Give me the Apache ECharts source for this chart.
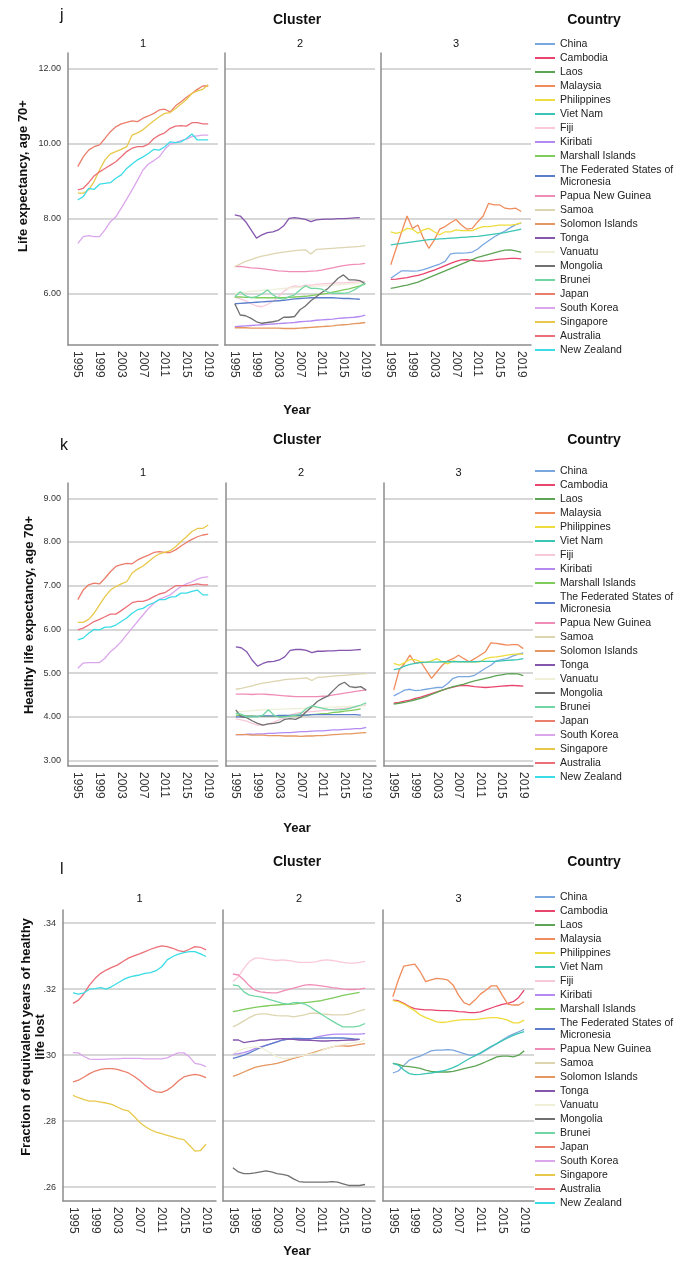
<!DOCTYPE html>
<html><head><meta charset="utf-8">
<script src="https://cdn.jsdelivr.net/npm/echarts@6/dist/echarts.min.js"></script>
<style>html,body{margin:0;padding:0;background:#fff}#c{width:689px;height:1263px}</style>
</head><body><div id="c"></div>
<script>
const years = [1995,1996,1997,1998,1999,2000,2001,2002,2003,2004,2005,2006,2007,2008,2009,2010,2011,2012,2013,2014,2015,2016,2017,2018,2019];
const yearTicks = [1995,1999,2003,2007,2011,2015,2019];
const countries = ['China','Cambodia','Laos','Malaysia','Philippines','Viet Nam','Fiji','Kiribati','Marshall Islands','The Federated States of Micronesia','Papua New Guinea','Samoa','Solomon Islands','Tonga','Vanuatu','Mongolia','Brunei','Japan','South Korea','Singapore','Australia','New Zealand'];
const colors = ['#7BA7E1','#E8456E','#5DA454','#F08C5C','#EEDC3C','#3BC5B5','#F9C9DA','#B48AF2','#7FCB5C','#5B7DCC','#F08DB6','#DDD5B0','#E5975F','#8456AE','#EFEFD8','#707070','#72D6A4','#EA7E6A','#DBA6EC','#E8C84A','#EC6F78','#3CDCE6'];
const clusterOf = [3,3,3,3,3,3,2,2,2,2,2,2,2,2,2,2,2,1,1,1,1,1];
const yTicksLE = [6,8,10,12];
const yTicksHLE = [3,4,5,6,7,8,9];
const yTicksFR = [0.26,0.28,0.30,0.32,0.34];

// Life expectancy, age 70+
const le_China = [6.4,6.5,6.6,6.6,6.59,6.6,6.63,6.68,6.73,6.78,6.85,7.05,7.07,7.07,7.08,7.1,7.18,7.3,7.4,7.5,7.58,7.66,7.75,7.83,7.88];
const le_Cambodia = [6.37,6.38,6.4,6.42,6.45,6.48,6.52,6.57,6.62,6.68,6.74,6.8,6.85,6.89,6.9,6.88,6.86,6.86,6.87,6.89,6.91,6.92,6.93,6.93,6.92];
const le_Laos = [6.13,6.16,6.19,6.22,6.26,6.3,6.36,6.42,6.48,6.54,6.6,6.66,6.72,6.78,6.84,6.9,6.96,7.0,7.04,7.08,7.12,7.15,7.16,7.13,7.09];
const le_Malaysia = [6.76,7.2,7.64,8.06,7.73,7.82,7.47,7.2,7.42,7.71,7.78,7.88,7.97,7.82,7.71,7.73,7.91,8.06,8.4,8.36,8.36,8.27,8.25,8.27,8.18];
const le_Philippines = [7.64,7.6,7.64,7.73,7.71,7.6,7.69,7.73,7.64,7.56,7.64,7.64,7.69,7.67,7.67,7.67,7.73,7.78,7.78,7.8,7.82,7.82,7.82,7.84,7.88];
const le_VietNam = [7.29,7.31,7.33,7.35,7.37,7.39,7.41,7.43,7.44,7.45,7.46,7.47,7.48,7.49,7.5,7.51,7.52,7.54,7.56,7.58,7.6,7.62,7.65,7.68,7.71];
const le_Fiji = [5.9,5.85,5.8,5.72,5.66,5.64,5.7,5.78,5.9,6.05,6.15,6.2,6.18,6.22,6.22,6.24,6.25,6.26,6.27,6.28,6.28,6.29,6.3,6.31,6.32];
const le_Kiribati = [5.11,5.12,5.13,5.14,5.15,5.16,5.17,5.18,5.19,5.2,5.21,5.22,5.24,5.25,5.26,5.28,5.29,5.3,5.31,5.33,5.34,5.35,5.36,5.38,5.42];
const le_Marshall = [5.9,5.9,5.89,5.89,5.88,5.88,5.88,5.88,5.88,5.88,5.89,5.9,5.91,5.92,5.94,5.96,5.98,6.0,6.03,6.06,6.09,6.12,6.16,6.2,6.25];
const le_Micronesia = [5.72,5.73,5.74,5.75,5.76,5.77,5.78,5.79,5.8,5.81,5.83,5.85,5.86,5.87,5.88,5.88,5.88,5.88,5.88,5.87,5.86,5.86,5.85,5.84,null];
const le_PNG = [6.71,6.72,6.7,6.68,6.67,6.66,6.64,6.62,6.6,6.59,6.58,6.58,6.58,6.58,6.59,6.6,6.62,6.65,6.68,6.71,6.74,6.76,6.77,6.78,6.8];
const le_Samoa = [6.71,6.78,6.85,6.9,6.95,6.99,7.02,7.05,7.08,7.1,7.12,7.14,7.15,7.16,7.05,7.17,7.18,7.19,7.2,7.21,7.22,7.23,7.24,7.25,7.27];
const le_Solomon = [5.08,5.08,5.08,5.07,5.07,5.07,5.07,5.07,5.07,5.06,5.06,5.06,5.07,5.08,5.09,5.1,5.11,5.12,5.13,5.15,5.16,5.17,5.19,5.2,5.22];
const le_Tonga = [8.09,8.06,7.91,7.69,7.47,7.56,7.62,7.64,7.69,7.8,8.0,8.02,8.0,7.97,7.91,7.96,7.97,7.98,7.98,7.99,7.99,8.0,8.01,8.02,null];
const le_Vanuatu = [6.0,6.02,6.03,6.05,6.06,6.08,6.09,6.1,6.12,6.13,6.14,6.15,6.16,6.17,6.18,6.19,6.2,6.21,6.22,6.23,6.24,6.25,6.26,6.27,6.28];
const le_Mongolia = [5.72,5.42,5.4,5.33,5.24,5.2,5.22,5.24,5.27,5.36,5.36,5.38,5.56,5.66,5.8,5.91,6.02,6.11,6.25,6.4,6.49,6.36,6.36,6.34,6.25];
const le_Brunei = [5.91,6.04,5.93,5.88,5.91,5.98,6.09,5.96,5.87,5.84,5.91,5.96,6.09,6.2,6.13,6.13,6.11,6.04,6.0,6.0,6.0,6.02,6.09,6.18,6.27];
const le_Japan = [9.38,9.64,9.82,9.91,9.96,10.13,10.31,10.44,10.52,10.56,10.6,10.58,10.67,10.73,10.8,10.89,10.91,10.84,11.0,11.11,11.23,11.33,11.44,11.53,11.53];
const le_SouthKorea = [7.33,7.51,7.54,7.51,7.51,7.69,7.91,8.04,8.27,8.51,8.76,9.02,9.29,9.45,9.54,9.64,9.84,9.98,10.02,10.07,10.11,10.18,10.2,10.22,10.22];
const le_Singapore = [8.67,8.67,8.76,8.98,9.29,9.56,9.72,9.78,9.84,9.91,10.22,10.28,10.36,10.49,10.6,10.71,10.8,10.82,10.93,11.05,11.17,11.33,11.4,11.44,11.56];
const le_Australia = [8.76,8.8,8.95,9.13,9.24,9.33,9.42,9.51,9.64,9.78,9.87,9.91,9.91,9.98,10.13,10.22,10.28,10.4,10.46,10.47,10.46,10.55,10.55,10.52,10.52];
const le_NewZealand = [8.49,8.58,8.8,8.77,8.91,8.93,8.95,9.07,9.16,9.33,9.45,9.56,9.64,9.73,9.84,9.82,9.91,10.04,10.02,10.04,10.13,10.25,10.09,10.09,10.09];

// Healthy life expectancy, age 70+
const hle_China = [4.48,4.54,4.61,4.63,4.6,4.61,4.63,4.65,4.67,4.67,4.76,4.88,4.92,4.92,4.92,4.95,5.03,5.11,5.18,5.28,5.31,5.33,5.39,5.43,5.46];
const hle_Cambodia = [4.31,4.33,4.36,4.38,4.42,4.45,4.49,4.53,4.57,4.61,4.65,4.68,4.71,4.72,4.71,4.69,4.68,4.67,4.68,4.69,4.7,4.71,4.72,4.71,4.7];
const hle_Laos = [4.29,4.31,4.33,4.36,4.39,4.42,4.46,4.51,4.56,4.61,4.65,4.69,4.72,4.75,4.79,4.82,4.85,4.88,4.91,4.94,4.96,4.98,4.99,4.98,4.94];
const hle_Malaysia = [4.61,5.07,5.22,5.41,5.22,5.26,5.07,4.88,5.03,5.18,5.28,5.33,5.41,5.33,5.26,5.33,5.41,5.49,5.69,5.68,5.66,5.64,5.65,5.65,5.56];
const hle_Philippines = [5.22,5.18,5.24,5.31,5.31,5.26,5.24,5.28,5.33,5.26,5.21,5.28,5.26,5.26,5.26,5.26,5.26,5.33,5.36,5.37,5.39,5.41,5.43,5.44,5.43];
const hle_VietNam = [5.08,5.1,5.16,5.2,5.22,5.24,5.25,5.25,5.25,5.26,5.26,5.26,5.26,5.26,5.26,5.26,5.27,5.27,5.27,5.27,5.28,5.29,5.3,5.31,5.33];
const hle_Fiji = [3.95,3.93,3.9,3.85,3.81,3.81,3.84,3.88,3.93,3.98,4.04,4.08,4.1,4.11,4.12,4.13,4.14,4.15,4.17,4.18,4.19,4.21,4.23,4.25,4.27];
const hle_Kiribati = [3.59,3.59,3.6,3.6,3.61,3.61,3.62,3.62,3.63,3.64,3.64,3.65,3.66,3.66,3.67,3.68,3.68,3.69,3.7,3.7,3.71,3.72,3.73,3.73,3.76];
const hle_Marshall = [4.04,4.03,4.02,4.02,4.01,4.01,4.01,4.01,4.01,4.01,4.02,4.02,4.03,4.04,4.05,4.06,4.07,4.08,4.1,4.11,4.13,4.14,4.16,4.18,null];
const hle_Micronesia = [4.0,4.0,4.01,4.01,4.01,4.02,4.02,4.02,4.03,4.03,4.03,4.04,4.04,4.04,4.05,4.05,4.05,4.05,4.05,4.05,4.05,4.05,4.05,4.04,null];
const hle_PNG = [4.52,4.52,4.52,4.51,4.52,4.52,4.51,4.5,4.49,4.48,4.47,4.46,4.46,4.46,4.46,4.46,4.47,4.48,4.5,4.52,4.54,4.56,4.58,4.6,4.61];
const hle_Samoa = [4.63,4.65,4.68,4.71,4.74,4.77,4.79,4.81,4.83,4.85,4.86,4.87,4.88,4.89,4.83,4.9,4.91,4.92,4.93,4.94,4.95,4.96,4.97,4.98,4.99];
const hle_Solomon = [3.59,3.59,3.59,3.58,3.58,3.58,3.57,3.57,3.57,3.56,3.56,3.56,3.55,3.56,3.56,3.57,3.57,3.58,3.59,3.6,3.61,3.61,3.62,3.63,3.64];
const hle_Tonga = [5.6,5.58,5.49,5.3,5.16,5.22,5.26,5.27,5.3,5.37,5.52,5.54,5.54,5.52,5.47,5.5,5.5,5.51,5.51,5.52,5.52,5.52,5.53,5.54,null];
const hle_Vanuatu = [4.12,4.12,4.13,4.14,4.15,4.16,4.16,4.17,4.17,4.18,4.18,4.19,4.19,4.2,4.2,4.21,4.21,4.22,4.22,4.23,4.23,4.24,4.24,4.25,4.25];
const hle_Mongolia = [4.16,4.0,3.98,3.91,3.85,3.81,3.84,3.85,3.87,3.94,3.96,3.94,4.0,4.12,4.23,4.35,4.42,4.48,4.61,4.73,4.79,4.69,4.67,4.69,4.61];
const hle_Brunei = [4.08,4.06,4.0,4.0,4.0,4.04,4.16,4.04,3.99,4.0,4.02,4.04,4.08,4.19,4.25,4.22,4.19,4.17,4.16,4.16,4.17,4.19,4.23,4.27,4.32];
const hle_Japan = [6.68,6.9,7.02,7.06,7.04,7.17,7.32,7.44,7.48,7.51,7.5,7.59,7.65,7.7,7.76,7.78,7.76,7.76,7.82,7.91,7.99,8.06,8.12,8.16,8.18];
const hle_SouthKorea = [5.11,5.23,5.24,5.24,5.24,5.34,5.49,5.59,5.72,5.88,6.03,6.18,6.33,6.48,6.6,6.69,6.74,6.79,6.89,6.98,7.04,7.09,7.15,7.19,7.2];
const hle_Singapore = [6.16,6.16,6.23,6.37,6.56,6.75,6.9,6.98,7.04,7.09,7.29,7.38,7.45,7.55,7.65,7.73,7.76,7.8,7.89,8.01,8.12,8.24,8.31,8.31,8.39];
const hle_Australia = [5.99,6.03,6.1,6.18,6.23,6.29,6.35,6.35,6.43,6.52,6.61,6.64,6.64,6.68,6.75,6.81,6.84,6.92,7.0,7.0,7.0,7.02,7.04,7.02,7.02];
const hle_NewZealand = [5.76,5.8,5.91,6.0,5.99,6.05,6.05,6.1,6.18,6.26,6.37,6.45,6.48,6.56,6.61,6.68,6.68,6.74,6.75,6.83,6.83,6.87,6.9,6.79,6.79];

// Fraction of equivalent years of healthy life lost
const fr_China = [0.2946,0.2952,0.2969,0.2985,0.2992,0.2997,0.3005,0.3013,0.3015,0.3015,0.3017,0.3015,0.301,0.3005,0.3,0.3,0.3005,0.3015,0.3025,0.3035,0.3046,0.3056,0.3064,0.3071,0.3078];
const fr_Cambodia = [0.3167,0.3165,0.3157,0.3147,0.3141,0.3139,0.3137,0.3137,0.3136,0.3135,0.3135,0.3134,0.3132,0.3131,0.3129,0.3129,0.3131,0.3137,0.3143,0.3149,0.3154,0.3157,0.3162,0.3175,0.3197];
const fr_Laos = [0.2975,0.2972,0.2967,0.2965,0.2963,0.296,0.2955,0.2951,0.2949,0.2949,0.2949,0.2951,0.2955,0.2959,0.2963,0.2967,0.2973,0.298,0.2987,0.2995,0.2997,0.2997,0.2995,0.3,0.3013];
const fr_Malaysia = [0.3177,0.3228,0.327,0.3273,0.3276,0.3253,0.3223,0.3228,0.3233,0.3231,0.3228,0.3213,0.3182,0.3159,0.3152,0.3167,0.3185,0.3197,0.321,0.321,0.3182,0.3155,0.3152,0.3152,0.3162];
const fr_Philippines = [0.3165,0.3162,0.3155,0.3145,0.3135,0.3122,0.3114,0.3108,0.3101,0.3099,0.3101,0.3104,0.3106,0.3108,0.3108,0.3108,0.311,0.3112,0.3114,0.3114,0.3111,0.3106,0.3098,0.3098,0.3106];
const fr_VietNam = [0.2975,0.297,0.2955,0.2944,0.2941,0.2942,0.2944,0.2946,0.2949,0.2952,0.2956,0.2962,0.297,0.298,0.299,0.2998,0.3007,0.3017,0.3027,0.3035,0.3044,0.3052,0.306,0.3066,0.3071];
const fr_Fiji = [0.3223,0.3238,0.3263,0.3284,0.3294,0.3294,0.3291,0.3289,0.3287,0.3289,0.3287,0.3284,0.3281,0.3281,0.3281,0.3283,0.3287,0.3289,0.3287,0.3284,0.3281,0.3279,0.3279,0.3281,0.3284];
const fr_Kiribati = [0.3003,0.3005,0.3008,0.3013,0.302,0.3025,0.303,0.3035,0.304,0.3046,0.3049,0.305,0.3048,0.3046,0.3048,0.3054,0.3058,0.3061,0.3063,0.3064,0.3064,0.3064,0.3064,0.3064,0.3065];
const fr_Marshall = [0.3132,0.3135,0.3139,0.3142,0.3145,0.3147,0.3149,0.3151,0.3152,0.3153,0.3154,0.3155,0.3157,0.3159,0.3161,0.3163,0.3165,0.3169,0.3173,0.3177,0.3181,0.3184,0.3187,0.319,null];
const fr_Micronesia = [0.299,0.2995,0.3,0.3007,0.3015,0.3023,0.303,0.3035,0.304,0.3046,0.3049,0.3051,0.3051,0.305,0.305,0.3051,0.3052,0.3052,0.3052,0.3052,0.3052,0.3051,0.3049,0.3048,null];
const fr_PNG = [0.3246,0.3243,0.3228,0.321,0.3197,0.3192,0.319,0.3189,0.3189,0.3194,0.3199,0.3203,0.3208,0.3212,0.3214,0.3212,0.321,0.3208,0.3205,0.3203,0.32,0.3199,0.3199,0.32,0.3203];
const fr_Samoa = [0.3086,0.3094,0.3104,0.3114,0.3122,0.3125,0.3125,0.3122,0.312,0.3119,0.3119,0.3116,0.3119,0.3122,0.3127,0.3127,0.3125,0.3124,0.3122,0.3122,0.3122,0.3124,0.3129,0.3134,0.3139];
const fr_Solomon = [0.2936,0.2942,0.2949,0.2956,0.2963,0.2967,0.297,0.2972,0.2975,0.298,0.2985,0.299,0.2995,0.3,0.3005,0.301,0.3015,0.302,0.3025,0.3028,0.3028,0.3027,0.303,0.3033,0.3035];
const fr_Tonga = [0.3046,0.3046,0.3038,0.3041,0.3043,0.3046,0.3046,0.3048,0.3049,0.305,0.3049,0.3048,0.3046,0.3046,0.3045,0.3044,0.3043,0.3043,0.3044,0.3044,0.3045,0.3046,0.3046,0.3048,null];
const fr_Vanuatu = [0.3005,0.3013,0.302,0.3023,0.3025,0.3023,0.3015,0.3005,0.2995,0.299,0.299,0.2993,0.2997,0.3,0.3003,0.3007,0.3013,0.302,0.3025,0.303,0.3032,0.3035,0.3038,0.304,0.3046];
const fr_Mongolia = [0.2659,0.2646,0.2641,0.2641,0.2643,0.2646,0.2649,0.2646,0.2641,0.2639,0.2635,0.2625,0.2617,0.2615,0.2615,0.2615,0.2615,0.2615,0.2617,0.2615,0.261,0.2605,0.2605,0.2605,0.2608];
const fr_Brunei = [0.3213,0.321,0.3192,0.3182,0.3179,0.3177,0.3172,0.3167,0.3162,0.3157,0.3155,0.3159,0.3159,0.3155,0.3147,0.3135,0.3125,0.3114,0.3104,0.3094,0.3086,0.3086,0.3086,0.3089,0.3096];
const fr_Japan = [0.2919,0.2924,0.2934,0.2944,0.2952,0.2957,0.2959,0.2959,0.2957,0.2952,0.2946,0.2936,0.2924,0.2909,0.2896,0.2889,0.2887,0.2894,0.2906,0.2922,0.2934,0.2939,0.2942,0.2939,0.2932];
const fr_SouthKorea = [0.3008,0.3007,0.2996,0.2988,0.2987,0.2987,0.2988,0.2989,0.2989,0.299,0.299,0.299,0.299,0.2989,0.2989,0.2989,0.2989,0.2992,0.3,0.3007,0.3007,0.2995,0.2975,0.2972,0.2965];
const fr_Singapore = [0.2878,0.2871,0.2865,0.2861,0.2861,0.2858,0.2855,0.2851,0.2843,0.2835,0.2831,0.2815,0.2797,0.2784,0.2774,0.2767,0.2762,0.2757,0.2752,0.2747,0.2744,0.2727,0.2709,0.2711,0.273];
const fr_Australia = [0.3157,0.3167,0.3187,0.3213,0.3233,0.3248,0.3258,0.3266,0.3273,0.3284,0.3294,0.3301,0.3307,0.3314,0.3321,0.3327,0.3331,0.3329,0.3324,0.3317,0.3314,0.3321,0.3329,0.3327,0.3319];
const fr_NewZealand = [0.3189,0.3185,0.3189,0.32,0.3202,0.3205,0.32,0.3208,0.3218,0.3228,0.3236,0.324,0.3243,0.3248,0.325,0.3256,0.3268,0.3289,0.3299,0.3306,0.3311,0.3314,0.3314,0.3307,0.3299];

const leTable = [le_China,le_Cambodia,le_Laos,le_Malaysia,le_Philippines,le_VietNam,le_Fiji,le_Kiribati,le_Marshall,le_Micronesia,le_PNG,le_Samoa,le_Solomon,le_Tonga,le_Vanuatu,le_Mongolia,le_Brunei,le_Japan,le_SouthKorea,le_Singapore,le_Australia,le_NewZealand];
const hleTable = [hle_China,hle_Cambodia,hle_Laos,hle_Malaysia,hle_Philippines,hle_VietNam,hle_Fiji,hle_Kiribati,hle_Marshall,hle_Micronesia,hle_PNG,hle_Samoa,hle_Solomon,hle_Tonga,hle_Vanuatu,hle_Mongolia,hle_Brunei,hle_Japan,hle_SouthKorea,hle_Singapore,hle_Australia,hle_NewZealand];
const frTable = [fr_China,fr_Cambodia,fr_Laos,fr_Malaysia,fr_Philippines,fr_VietNam,fr_Fiji,fr_Kiribati,fr_Marshall,fr_Micronesia,fr_PNG,fr_Samoa,fr_Solomon,fr_Tonga,fr_Vanuatu,fr_Mongolia,fr_Brunei,fr_Japan,fr_SouthKorea,fr_Singapore,fr_Australia,fr_NewZealand];

const FONT = '"Liberation Sans", Arial, sans-serif';
const rows = [
  {table: leTable, top: 53, height: 292, min: 4.62, max: 12.41, ticks: yTicksLE, fmt: v => v.toFixed(2),
   name: 'Life expectancy, age 70+', nameX: 23, nameY: 176, panels: [[68,150],[225,150],[381,150]],
   letter: 'j', letterY: 16, headY: 20, numY: 44, yearY: 410, legendTop: 33},
  {table: hleTable, top: 483, height: 283, min: 2.874, max: 9.35, ticks: yTicksHLE, fmt: v => v.toFixed(2),
   name: 'Healthy life expectancy, age 70+', nameX: 29, nameY: 615, panels: [[68,150],[226,150],[384,149]],
   letter: 'k', letterY: 446, headY: 440, numY: 473, yearY: 828, legendTop: 460},
  {table: frTable, top: 910, height: 291, min: 0.2558, max: 0.344, ticks: yTicksFR, fmt: v => v.toFixed(2).replace(/^0/, ''),
   name: 'Fraction of equivalent years of healthy\nlife lost', nameX: 33, nameY: 1037, panels: [[63,153],[223,152],[383,151]],
   letter: 'l', letterY: 870, headY: 862, numY: 899, yearY: 1251, legendTop: 886}
];

const grid = [], xAxis = [], yAxis = [], series = [], legend = [], graphic = [];
const axisLineStyle = {color: '#8c8c8c', width: 1.5};
function txt(x, y, text, size, bold, extra) {
  return Object.assign({type: 'text', x: x, y: y, silent: true, style: {text: text, align: 'center', verticalAlign: 'middle', textAlign: 'center', textVerticalAlign: 'middle', fontSize: size, fontWeight: bold ? 'bold' : 'normal', fontFamily: FONT, fill: '#111', lineHeight: 14}}, extra || {});
}
rows.forEach((r, ri) => {
  r.panels.forEach((p, pi) => {
    const gi = ri * 3 + pi;
    grid.push({left: p[0], top: r.top, width: p[1], height: r.height, containLabel: false, outerBoundsMode: 'none'});
    xAxis.push({gridIndex: gi, type: 'value', min: 1993.2, max: 2020.8,
      axisLine: {show: true, onZero: false, lineStyle: axisLineStyle},
      axisTick: {show: false, customValues: yearTicks},
      splitLine: {show: false},
      axisLabel: {customValues: yearTicks, rotate: -90, color: '#333', fontSize: 12, margin: 6, fontFamily: FONT, formatter: v => String(v)}
    });
    yAxis.push({gridIndex: gi, type: 'value', min: r.min, max: r.max,
      axisLine: {show: true, lineStyle: axisLineStyle},
      axisTick: {show: false, customValues: r.ticks},
      splitLine: {show: true, lineStyle: {color: '#cacaca', width: 1.5}},
      axisLabel: {show: pi === 0, customValues: r.ticks, formatter: r.fmt, color: '#333', fontSize: 9, margin: 7, fontFamily: FONT}
    });
    graphic.push(txt(p[0] + p[1] / 2, r.numY, String(pi + 1), 11, false));
  });
  countries.forEach((c, ci) => {
    const gi = ri * 3 + (clusterOf[ci] - 1);
    const arr = r.table[ci];
    series.push({type: 'line', name: c, xAxisIndex: gi, yAxisIndex: gi,
      data: years.map((y, i) => [y, arr[i]]),
      symbol: 'none', showSymbol: false, connectNulls: false,
      lineStyle: {width: 1.3, color: colors[ci]}, itemStyle: {color: colors[ci]},
      emphasis: {disabled: true}, silent: true});
  });
  legend.push({orient: 'vertical', left: 530, top: r.legendTop, itemWidth: 20, itemHeight: 2, itemGap: 2,
    icon: 'rect', selectedMode: false, data: countries,
    formatter: n => n === 'The Federated States of Micronesia' ? 'The Federated States of\nMicronesia' : n,
    textStyle: {fontSize: 10.5, lineHeight: 12, color: '#222', fontFamily: FONT}});
  graphic.push(txt(60, r.letterY, r.letter, 16, false, {style: {text: r.letter, align: 'left', verticalAlign: 'middle', fontSize: 16, fontFamily: FONT, fill: '#111'}}));
  graphic.push(txt(297, r.headY, 'Cluster', 14, true));
  graphic.push(txt(594, r.headY, 'Country', 14, true));
  graphic.push(txt(297, r.yearY, 'Year', 13, true));
  graphic.push(txt(r.nameX, r.nameY, r.name, 13, true, {rotation: Math.PI / 2}));
});

const chart = echarts.init(document.getElementById('c'), null, {renderer: 'canvas'});
chart.setOption({animation: false, backgroundColor: '#fff', grid, xAxis, yAxis, series, legend, graphic, tooltip: {show: false}});
</script></body></html>
